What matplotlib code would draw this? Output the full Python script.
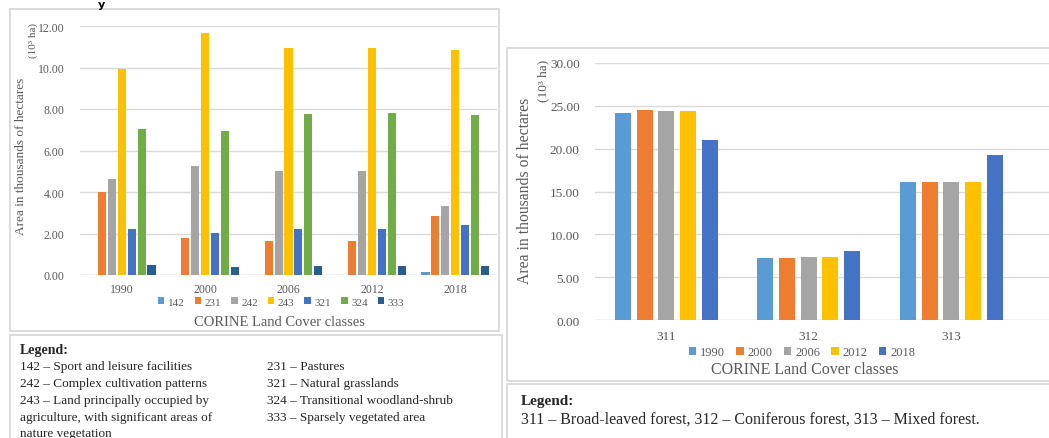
import numpy as np
import matplotlib.pyplot as plt
from matplotlib.patches import Rectangle

plt.rcParams['font.family'] = ['Liberation Serif', 'DejaVu Serif']

# left chart data
years = ['1990', '2000', '2006', '2012', '2018']
classes_left = ['142', '231', '242', '243', '321', '324', '333']
vals_left = {
    '142': [0.00, 0.00, 0.00, 0.00, 0.13],
    '231': [4.02, 1.76, 1.66, 1.66, 2.86],
    '242': [4.63, 5.24, 5.00, 5.00, 3.32],
    '243': [9.92, 11.67, 10.93, 10.93, 10.85],
    '321': [2.21, 2.02, 2.21, 2.21, 2.42],
    '324': [7.05, 6.92, 7.78, 7.83, 7.72],
    '333': [0.50, 0.39, 0.42, 0.42, 0.42],
}

# right chart data
classes_right = ['311', '312', '313']
vals_right = {
    '1990': [24.16, 7.20, 16.15],
    '2000': [24.47, 7.28, 16.07],
    '2006': [24.42, 7.35, 16.15],
    '2012': [24.42, 7.35, 16.15],
    '2018': [20.97, 8.05, 19.22],
}

colors = ['#5B9BD5', '#ED7D31', '#A5A5A5', '#FFC000', '#4472C4', '#70AD47', '#255E91']
grid_c = '#D9D9D9'
tick_c = '#595959'
text_c = '#262626'

W, H = 1049, 439
fig = plt.figure(figsize=(W / 100, H / 100), dpi=100)


def fx(px):
    return px / W


def fy(py):
    return 1 - py / H


def box(x0, y0, x1, y1):
    fig.patches.append(Rectangle((fx(x0), fy(y1)), fx(x1 - x0), (y1 - y0) / H,
                                 transform=fig.transFigure, fill=False,
                                 edgecolor=grid_c, linewidth=1.3, zorder=0))


def style_axes(ax):
    for s in ax.spines.values():
        s.set_visible(False)
    ax.yaxis.grid(True, color=grid_c, linewidth=1.0)
    ax.set_axisbelow(True)
    ax.tick_params(length=0, colors=tick_c)
    ax.axhline(0, color=grid_c, linewidth=1.0, zorder=0.5)


# frames
box(10, 10, 499, 332)
box(10, 336, 502, 460)
box(507, 49, 1060, 382)
box(507, 385, 1060, 460)

# ---- left chart ----
axl = fig.add_axes([fx(80), fy(276), fx(417), (276 - 27) / H])
x = np.arange(len(years))
pitch, bw = 0.119, 0.097
for i, c in enumerate(classes_left):
    axl.bar(x + (i - 3) * pitch, vals_left[c], width=bw, color=colors[i], label=c)
axl.set_xlim(-0.5, 4.5)
axl.set_ylim(0, 12)
axl.set_yticks(np.arange(0, 12.01, 2))
axl.set_yticklabels([f'{v:.2f}' for v in np.arange(0, 12.01, 2)], fontsize=8.5)
axl.set_xticks(x)
axl.set_xticklabels(years, fontsize=8.5)
axl.tick_params(axis='y', pad=11)
axl.tick_params(axis='x', pad=6)
style_axes(axl)
axl.legend(loc='center', bbox_to_anchor=(fx(281), fy(303)), bbox_transform=fig.transFigure,
           ncol=7, frameon=False, fontsize=8, handlelength=0.6, handleheight=0.6,
           handletextpad=0.3, columnspacing=0.9, labelcolor=tick_c)
fig.text(fx(279), fy(322), 'CORINE Land Cover classes', ha='center', va='center',
         fontsize=10.5, color=tick_c)
fig.text(fx(21), fy(156), 'Area in thousands of hectares', rotation=90, ha='center',
         va='center', fontsize=9.5, color=tick_c)
fig.text(fx(33), fy(41), '(10³ ha)', rotation=90, ha='center', va='center',
         fontsize=8, color=tick_c)

# ---- right chart ----
axr = fig.add_axes([fx(595), fy(321), fx(454), (321 - 64) / H])
xr = np.arange(len(classes_right))
pitch_r, bw_r = 0.152, 0.112
for i, y in enumerate(years):
    axr.bar(xr + (i - 2) * pitch_r, vals_right[y], width=bw_r, color=colors[i], label=y)
axr.set_xlim(-0.5, -0.5 + 454 / 142.5)
axr.set_ylim(0, 30)
axr.set_yticks(np.arange(0, 30.01, 5))
axr.set_yticklabels([f'{v:.2f}' for v in np.arange(0, 30.01, 5)], fontsize=9.5)
axr.set_xticks(xr)
axr.set_xticklabels(classes_right, fontsize=9.5)
axr.tick_params(axis='y', pad=11)
axr.tick_params(axis='x', pad=7)
style_axes(axr)
axr.legend(loc='center', bbox_to_anchor=(fx(802), fy(353)), bbox_transform=fig.transFigure,
           ncol=5, frameon=False, fontsize=9, handlelength=0.6, handleheight=0.6,
           handletextpad=0.3, columnspacing=0.9, labelcolor=tick_c)
fig.text(fx(805), fy(370), 'CORINE Land Cover classes', ha='center', va='center',
         fontsize=11.5, color=tick_c)
fig.text(fx(525), fy(191), 'Area in thousands of hectares', rotation=90, ha='center',
         va='center', fontsize=11.3, color=tick_c)
fig.text(fx(543), fy(81), '(10³ ha)', rotation=90, ha='center', va='center',
         fontsize=9.5, color=tick_c)

# ---- legend boxes ----
fig.text(fx(20), fy(351), 'Legend:', fontsize=10, fontweight='bold', va='center', color=text_c)
col1 = ['142 – Sport and leisure facilities',
        '242 – Complex cultivation patterns',
        '243 – Land principally occupied by',
        'agriculture, with significant areas of',
        'nature vegetation']
col2 = ['231 – Pastures',
        '321 – Natural grasslands',
        '324 – Transitional woodland-shrub',
        '333 – Sparsely vegetated area']
rows = [367, 384, 401, 418, 434]
for t, r in zip(col1, rows):
    fig.text(fx(20), fy(r), t, fontsize=9.5, va='center', color=text_c)
for t, r in zip(col2, rows):
    fig.text(fx(267), fy(r), t, fontsize=9.5, va='center', color=text_c)

fig.text(fx(521), fy(402), 'Legend:', fontsize=11, fontweight='bold', va='center', color=text_c)
fig.text(fx(521), fy(420), '311 – Broad-leaved forest, 312 – Coniferous forest, 313 – Mixed forest.',
         fontsize=11.5, va='center', color=text_c)

# caption fragment at the top edge
fig.text(fx(98), fy(0.5), 'y', fontsize=8, fontweight='bold', va='top',
         family='DejaVu Sans', color='#000000')

fig.savefig('out.png', dpi=100)
